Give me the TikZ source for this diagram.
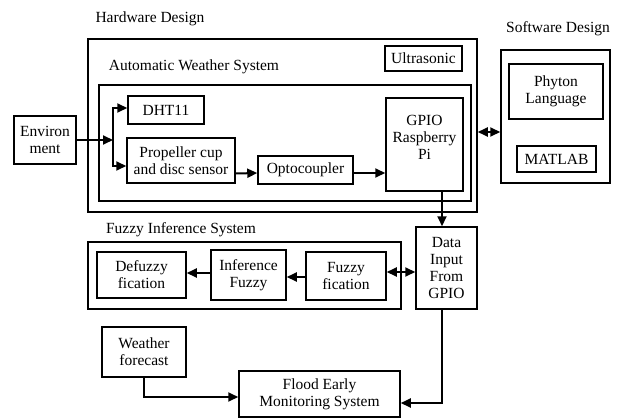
\documentclass[tikz,border=0pt]{standalone}
\usepackage{fontspec}
\setmainfont{Liberation Serif}
\usetikzlibrary{arrows.meta}
\begin{document}
\begin{tikzpicture}[x=1pt,y=-1pt,
  box/.style={draw, line width=1.5pt, align=center, inner sep=0pt, font=\fontsize{15.5}{17}\selectfont},
  lbl/.style={font=\fontsize{15.5}{17}\selectfont, inner sep=0pt},
  arr/.style={line width=2pt, -{Triangle[length=10pt,width=9pt]}},
  darr/.style={line width=2pt, {Triangle[length=10pt,width=9pt]}-{Triangle[length=10pt,width=9pt]}}]
\useasboundingbox (0,0) rectangle (620,417);
% containers
\node[box, minimum width=389pt, minimum height=173pt] (hw) at (282.5,125.5) {};
\node[box, minimum width=372pt, minimum height=116pt] (aws) at (285,143) {};
\node[box, minimum width=109pt, minimum height=133pt] (sw) at (555.5,116.5) {};
\node[box, minimum width=313pt, minimum height=67pt] (fis) at (244.5,275.5) {};
% labels
\node[lbl] (hwl) at (150,19) {Hardware Design};
\node[lbl] (awsl) at (194,67) {Automatic Weather System};
\node[lbl] (swl) at (558,29) {Software Design};
\node[lbl] (fisl) at (181,230) {Fuzzy Inference System};
% nodes
\node[box, minimum width=77pt, minimum height=25pt] (ultra) at (423.5,58.5) {Ultrasonic};
\node[box, minimum width=76pt, minimum height=28pt] (dht) at (166,110) {DHT11};
\node[box, minimum width=108pt, minimum height=45pt] (prop) at (181,160.5) {Propeller cup\\and disc sensor};
\node[box, minimum width=62pt, minimum height=48pt] (env) at (45,140) {Environ\\ment};
\node[box, minimum width=95pt, minimum height=28pt] (opto) at (305.5,170) {Optocoupler};
\node[box, minimum width=77pt, minimum height=93pt, text depth=14pt] (gpio) at (424.5,144.5) {GPIO\\Raspberry\\Pi};
\node[box, minimum width=94pt, minimum height=55pt] (phy) at (556,91.5) {Phyton\\Language};
\node[box, minimum width=79pt, minimum height=26pt] (mat) at (556.5,159) {MATLAB};
\node[box, minimum width=61pt, minimum height=82pt] (data) at (446.5,268) {Data\\Input\\From\\GPIO};
\node[box, minimum width=89pt, minimum height=46pt] (defz) at (141.5,275) {Defuzzy\\fication};
\node[box, minimum width=75pt, minimum height=50pt] (inf) at (248.5,275) {Inference\\Fuzzy};
\node[box, minimum width=80pt, minimum height=48pt] (fzf) at (346,276) {Fuzzy\\fication};
\node[box, minimum width=84pt, minimum height=50pt] (wf) at (144,352) {Weather\\forecast};
\node[box, minimum width=161pt, minimum height=46pt] (flood) at (319.5,394) {Flood Early\\Monitoring System};
% connectors
\coordinate (j1) at (113,140);
\draw[arr] (env.east) -- (j1);
\draw[arr] (j1) |- ([yshift=2pt]dht.west);
\draw[arr] (j1) |- ([yshift=-5.5pt]prop.west);
\draw[arr] ([yshift=-13pt]prop.east) -- ([yshift=-3pt]opto.west);
\draw[arr] ([yshift=-3pt]opto.east) -- ([yshift=-28.5pt]gpio.west);
\draw[darr] ([yshift=-6.5pt]hw.east) -- ([yshift=-15.5pt]sw.west);
\draw[arr] ([xshift=17.5pt]gpio.south) -- ([xshift=-4.5pt]data.north);
\draw[darr] ([yshift=4pt]fzf.east) -- ([yshift=-4pt]data.west);
\draw[arr] ([yshift=-1pt]fzf.west) -- ([yshift=-2pt]inf.east);
\draw[arr] ([yshift=2pt]inf.west) -- ([yshift=2pt]defz.east);
\draw[arr] (wf.south) |- ([yshift=-3pt]flood.west);
\draw[arr] ([xshift=-4.5pt]data.south) |- ([yshift=-9pt]flood.east);
\end{tikzpicture}
\end{document}
